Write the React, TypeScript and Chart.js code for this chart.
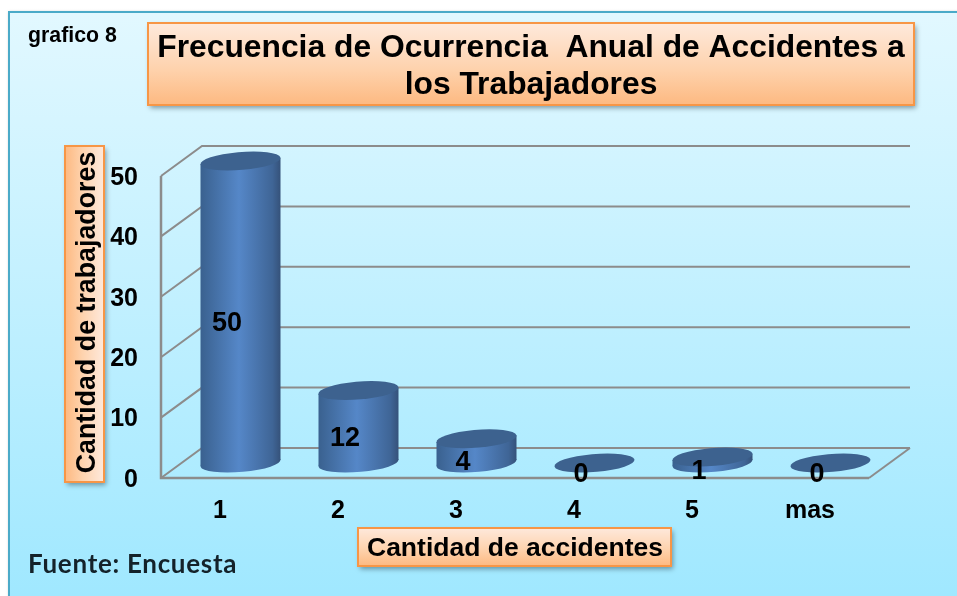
import React, { useEffect, useRef } from "react";
import { Chart, registerables } from "chart.js";

Chart.register(...registerables);

const categories = ["1", "2", "3", "4", "5", "mas"];
const frequencies = [50, 12, 4, 0, 1, 0];
const yTicks = [0, 10, 20, 30, 40, 50];
const titleLines = ["Frecuencia de Ocurrencia  Anual de Accidentes a", "los Trabajadores"];
const xTitle = "Cantidad de accidentes";
const yTitle = "Cantidad de trabajadores";
const cornerNote = "grafico 8";
const sourceNote = "Fuente: Encuesta";

const FONT = '"Liberation Sans", Arial, sans-serif';
const DEPTH_X = 41;
const DEPTH_Y = 30;

function orangeBox(ctx: CanvasRenderingContext2D, x: number, y: number, w: number, h: number, horizontal = false) {
  ctx.save();
  const g = horizontal ? ctx.createLinearGradient(x + w, 0, x, 0) : ctx.createLinearGradient(0, y, 0, y + h);
  g.addColorStop(0, "#fee9dc");
  g.addColorStop(0.55, "#fed3ae");
  g.addColorStop(1, "#fdb981");
  ctx.shadowColor = "rgba(40,60,70,0.5)";
  ctx.shadowBlur = 5;
  ctx.shadowOffsetX = 2;
  ctx.shadowOffsetY = 3;
  ctx.fillStyle = g;
  ctx.fillRect(x, y, w, h);
  ctx.shadowColor = "transparent";
  ctx.strokeStyle = "#f79646";
  ctx.lineWidth = 2;
  ctx.strokeRect(x, y, w, h);
  ctx.restore();
}

const backdrop = {
  id: "backdrop",
  beforeDraw(chart: any) {
    const { ctx, width, height } = chart;
    ctx.save();
    ctx.fillStyle = "#ffffff";
    ctx.fillRect(0, 0, width, height);
    ctx.shadowColor = "rgba(0,0,0,0.25)";
    ctx.shadowBlur = 3;
    const g = ctx.createLinearGradient(0, 12, 0, height);
    g.addColorStop(0, "#e2f8ff");
    g.addColorStop(1, "#a0e8ff");
    ctx.fillStyle = g;
    ctx.fillRect(9, 12, width + 20, height + 20);
    ctx.shadowColor = "transparent";
    ctx.strokeStyle = "#4aaac8";
    ctx.lineWidth = 2;
    ctx.strokeRect(9, 12, width + 20, height + 20);

    orangeBox(ctx, 148, 23, 766, 82);
    orangeBox(ctx, 65, 146, 39, 336, true);
    orangeBox(ctx, 358, 528, 313, 38);

    ctx.fillStyle = "#000";
    ctx.textAlign = "center";
    ctx.textBaseline = "middle";
    ctx.font = `bold 31.8px ${FONT}`;
    ctx.fillText(titleLines[0], 531, 48);
    ctx.fillText(titleLines[1], 531, 85);

    ctx.font = `bold 26.5px ${FONT}`;
    ctx.fillText(xTitle, 515, 549);

    ctx.save();
    ctx.translate(88, 312.5);
    ctx.rotate(-Math.PI / 2);
    ctx.font = `bold 26.8px ${FONT}`;
    ctx.fillText(yTitle, 0, 0);
    ctx.restore();

    ctx.textAlign = "left";
    ctx.font = `bold 21.3px ${FONT}`;
    ctx.fillText(cornerNote, 28, 36);
    ctx.fillStyle = "#14222a";
    ctx.font = `bold 26px Lato, sans-serif`;
    (ctx as any).letterSpacing = "0.7px";
    ctx.fillText(sourceNote, 28, 565);
    (ctx as any).letterSpacing = "0px";
    ctx.restore();
  },
  beforeDatasetsDraw(chart: any) {
    const { ctx, chartArea, scales } = chart;
    const { left, right, bottom } = chartArea;
    const y = scales.y;
    ctx.save();
    ctx.strokeStyle = "#8c8c8c";
    ctx.lineWidth = 2;
    ctx.lineCap = "butt";
    y.ticks.forEach((t: any) => {
      const py = y.getPixelForValue(t.value);
      ctx.beginPath();
      ctx.moveTo(left, py);
      ctx.lineTo(left + DEPTH_X, py - DEPTH_Y);
      ctx.lineTo(right + DEPTH_X, py - DEPTH_Y);
      ctx.stroke();
    });
    ctx.lineWidth = 2.5;
    ctx.beginPath();
    ctx.moveTo(left, y.getPixelForValue(y.max));
    ctx.lineTo(left, bottom);
    ctx.lineTo(right, bottom);
    ctx.stroke();
    ctx.lineWidth = 2;
    ctx.beginPath();
    ctx.moveTo(right, bottom);
    ctx.lineTo(right + DEPTH_X, bottom - DEPTH_Y);
    ctx.stroke();
    ctx.restore();
  },
};

function discPath(ctx: CanvasRenderingContext2D, cx: number, cy: number, R: number, skew: number, h: number) {
  ctx.save();
  ctx.transform(R, 0, skew, -h, cx, cy);
  ctx.beginPath();
  ctx.arc(0, 0, 1, 0, Math.PI * 2);
  ctx.restore();
}

const cylinders = {
  id: "cylinders",
  afterDatasetsDraw(chart: any) {
    const { ctx } = chart;
    const meta = chart.getDatasetMeta(0);
    const yScale = chart.scales.y;
    meta.data.forEach((bar: any) => {
      const half = bar.width / 2;
      const cx = bar.x + DEPTH_X / 2;
      const baseY = yScale.getPixelForValue(0) - DEPTH_Y / 2;
      const topY = bar.y - DEPTH_Y / 2;
      const skew = 13;
      const h = 9.5;
      const R = Math.sqrt(half * half - skew * skew);
      const t = Math.atan2(skew, R);
      const tilt = h * Math.sin(t);

      if (baseY - topY > 0.5) {
        const g = ctx.createLinearGradient(cx - half, 0, cx + half, 0);
        g.addColorStop(0, "#3a618f");
        g.addColorStop(0.48, "#5587c8");
        g.addColorStop(0.9, "#3f6596");
        g.addColorStop(1, "#35527a");
        ctx.save();
        ctx.fillStyle = g;
        discPath(ctx, cx, baseY, R, skew, h);
        ctx.fill();
        ctx.beginPath();
        ctx.moveTo(cx - half, topY + tilt);
        ctx.lineTo(cx + half, topY - tilt);
        ctx.lineTo(cx + half, baseY - tilt);
        ctx.lineTo(cx - half, baseY + tilt);
        ctx.closePath();
        ctx.fill();
        ctx.restore();
      }
      ctx.save();
      ctx.fillStyle = "#3d628f";
      discPath(ctx, cx, topY, R, skew, h);
      ctx.fill();
      ctx.restore();
    });
    ctx.save();
    ctx.fillStyle = "#000";
    ctx.font = `bold 27px ${FONT}`;
    ctx.textAlign = "center";
    ctx.textBaseline = "middle";
    meta.data.forEach((bar: any, i: number) => {
      const mid = (bar.y + yScale.getPixelForValue(0)) / 2;
      ctx.fillText(String(frequencies[i]), bar.x + 7, mid - 3);
    });
    ctx.restore();
  },
};

export default function App() {
  const ref = useRef<HTMLCanvasElement>(null);
  useEffect(() => {
    const chart = new Chart(ref.current!, {
      type: "bar",
      data: {
        labels: categories,
        datasets: [
          {
            label: yTitle,
            data: frequencies,
            backgroundColor: "rgba(0,0,0,0)",
            borderWidth: 0,
            barPercentage: 80 / 118,
            categoryPercentage: 1,
          },
        ],
      },
      plugins: [backdrop, cylinders],
      options: {
        responsive: false,
        animation: false,
        layout: { padding: { left: 0, top: 176, right: 88, bottom: 0 } },
        plugins: { legend: { display: false }, tooltip: { enabled: false }, title: { display: false } },
        scales: {
          x: {
            grid: { display: false, drawTicks: false },
            border: { display: false },
            ticks: { color: "#000", font: { family: FONT, weight: "bold", size: 25 }, padding: 18, maxRotation: 0 },
            afterFit(s: any) {
              s.height = 118;
            },
          },
          y: {
            min: 0,
            max: 50,
            grid: { display: false, drawTicks: false },
            border: { display: false },
            afterBuildTicks(s: any) {
              s.ticks = yTicks.map((value) => ({ value }));
            },
            ticks: { color: "#000", font: { family: FONT, weight: "bold", size: 25 }, padding: 23, labelOffset: 2 },
            afterFit(s: any) {
              s.width = 161;
            },
          },
        },
      },
    } as any);
    return () => chart.destroy();
  }, []);
  return (
    <canvas
      ref={ref}
      width={957}
      height={596}
      style={{ position: "fixed", left: 0, top: 0, display: "block", width: 957, height: 596 }}
    />
  );
}
